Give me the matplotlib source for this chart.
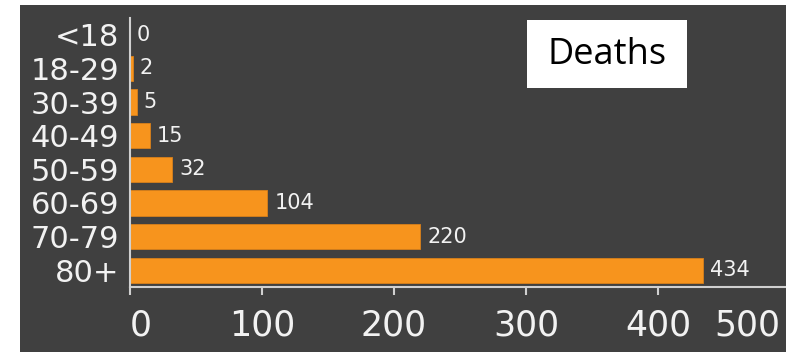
import matplotlib
matplotlib.use("Agg")
import matplotlib.pyplot as plt
from matplotlib.patches import Rectangle

# Deaths by age group
age_groups = ["<18", "18-29", "30-39", "40-49", "50-59", "60-69", "70-79", "80+"]
deaths = [0, 2, 5, 15, 32, 104, 220, 434]
x_ticks = [0, 100, 200, 300, 400]

BG = "#404040"
BAR = "#F7941D"
LINE = "#d0d0d0"
TEXT = "#f2f2f2"

fig = plt.figure(figsize=(7.86, 3.52), dpi=100, facecolor="white")

# dark panel behind the chart
fig.patches.append(Rectangle((20 / 786, 0), 1, 1 - 5 / 352, transform=fig.transFigure,
                             facecolor=BG, edgecolor="none", zorder=-1))

ax = fig.add_axes([130 / 786, 1 - 287 / 352, 1 - 130 / 786, (287 - 18) / 352])
ax.set_facecolor("none")

ypos = list(range(len(age_groups)))
bars = ax.barh(ypos, deaths, height=0.75, color=BAR, edgecolor="#d9801a", linewidth=0.6)

# value labels next to each bar
for y, v in zip(ypos, deaths):
    ax.annotate(str(v), xy=(v, y), xytext=(5, 0), textcoords="offset points",
                ha="left", va="center", color=TEXT, fontsize=15)

ax.set_yticks(ypos, age_groups)
ax.set_ylim(len(age_groups) - 0.5, -0.5)
ax.set_xlim(0, 497)
ax.set_xticks(x_ticks, [str(t) for t in x_ticks])
ax.get_xticklabels()[0].set_horizontalalignment("left")

# last tick label sits inside the panel edge
ax.annotate("500", xy=(500, 0), xycoords=("data", "axes fraction"),
            xytext=(-7, -15.5), textcoords="offset points", ha="right", va="top",
            color=TEXT, fontsize=25, annotation_clip=False)

for side in ["top", "right"]:
    ax.spines[side].set_visible(False)
for side in ["left", "bottom"]:
    ax.spines[side].set_color(LINE)
    ax.spines[side].set_linewidth(1.5)

ax.tick_params(axis="y", length=0, pad=8, labelsize=22, labelcolor=TEXT)
ax.tick_params(axis="x", length=5.8, width=1.5, color=LINE, pad=10,
               labelsize=25, labelcolor=TEXT)

# title box
fig.patches.append(Rectangle((527 / 786, 1 - 88 / 352), 160 / 786, 68 / 352,
                             transform=fig.transFigure, facecolor="white",
                             edgecolor="none", zorder=3))
fig.text(607 / 786, 1 - 55 / 352, "Deaths", ha="center", va="center",
         fontsize=26, family="Open Sans", color="black", zorder=4)

fig.savefig("out.png", dpi=100, facecolor="white")
